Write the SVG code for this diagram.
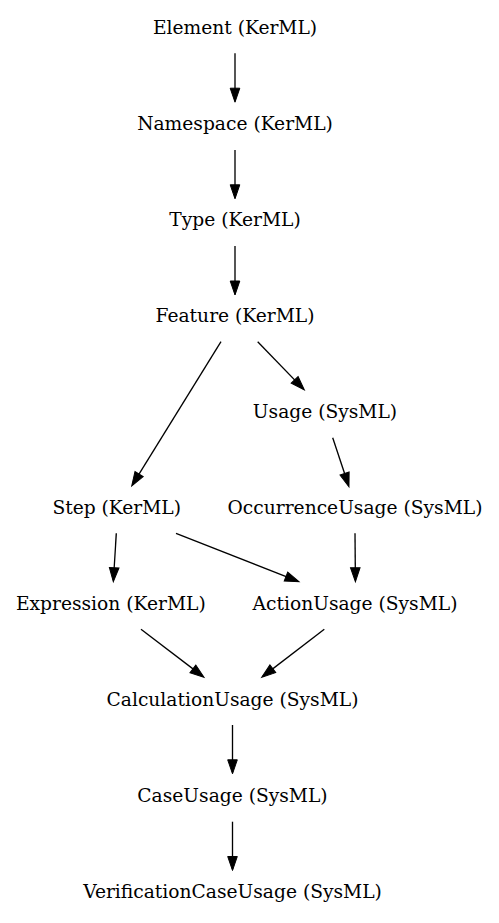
<svg xmlns="http://www.w3.org/2000/svg" width="499" height="923" viewBox="0 0 499 923">
<style>
text{font-family:"DejaVu Serif","Liberation Serif",serif;font-size:18.67px;fill:#000;text-anchor:middle}
.e line{stroke:#000;stroke-width:1.33;fill:none}
</style>
<defs>
<marker id="ah" markerUnits="userSpaceOnUse" markerWidth="15" markerHeight="11" refX="12.5" refY="4.8" orient="auto" overflow="visible">
<path d="M0,0 L14,4.8 L0,9.6 Z" fill="#000" stroke="#000" stroke-width="1"/>
</marker>
</defs>
<rect width="499" height="923" fill="#fff"/>
<g class="e" id="edges">
<line x1="235" y1="53.3" x2="235" y2="100.7" marker-end="url(#ah)"/>
<line x1="235" y1="150" x2="235" y2="197.3" marker-end="url(#ah)"/>
<line x1="235" y1="246" x2="235" y2="293.5" marker-end="url(#ah)"/>
<line x1="221" y1="341.7" x2="132.5" y2="484.7" marker-end="url(#ah)"/>
<line x1="257.7" y1="341.7" x2="303.3" y2="388.9" marker-end="url(#ah)"/>
<line x1="332.7" y1="437.7" x2="348.5" y2="485.3" marker-end="url(#ah)"/>
<line x1="116.3" y1="533.3" x2="113.4" y2="580.2" marker-end="url(#ah)"/>
<line x1="176" y1="533.3" x2="297.6" y2="581.2" marker-end="url(#ah)"/>
<line x1="355" y1="533.3" x2="355.4" y2="580.2" marker-end="url(#ah)"/>
<line x1="141" y1="629.3" x2="202.8" y2="676.4" marker-end="url(#ah)"/>
<line x1="324.3" y1="629.3" x2="262.9" y2="676.4" marker-end="url(#ah)"/>
<line x1="232.5" y1="725" x2="232.5" y2="772.3" marker-end="url(#ah)"/>
<line x1="232.5" y1="821.7" x2="232.5" y2="869" marker-end="url(#ah)"/>
</g>
<g id="element"><text x="235" y="34">Element (KerML)</text></g>
<g id="namespace"><text x="235" y="130">Namespace (KerML)</text></g>
<g id="type"><text x="235" y="226">Type (KerML)</text></g>
<g id="feature"><text x="235" y="322">Feature (KerML)</text></g>
<g id="usage"><text x="325" y="418">Usage (SysML)</text></g>
<g id="step"><text x="116.7" y="514">Step (KerML)</text></g>
<g id="occurrenceusage"><text x="355" y="514">OccurrenceUsage (SysML)</text></g>
<g id="expression"><text x="110.8" y="610">Expression (KerML)</text></g>
<g id="actionusage"><text x="355" y="610">ActionUsage (SysML)</text></g>
<g id="calculationusage"><text x="232.5" y="706">CalculationUsage (SysML)</text></g>
<g id="caseusage"><text x="232.5" y="802">CaseUsage (SysML)</text></g>
<g id="verificationcaseusage"><text x="232.5" y="898">VerificationCaseUsage (SysML)</text></g>
</svg>
